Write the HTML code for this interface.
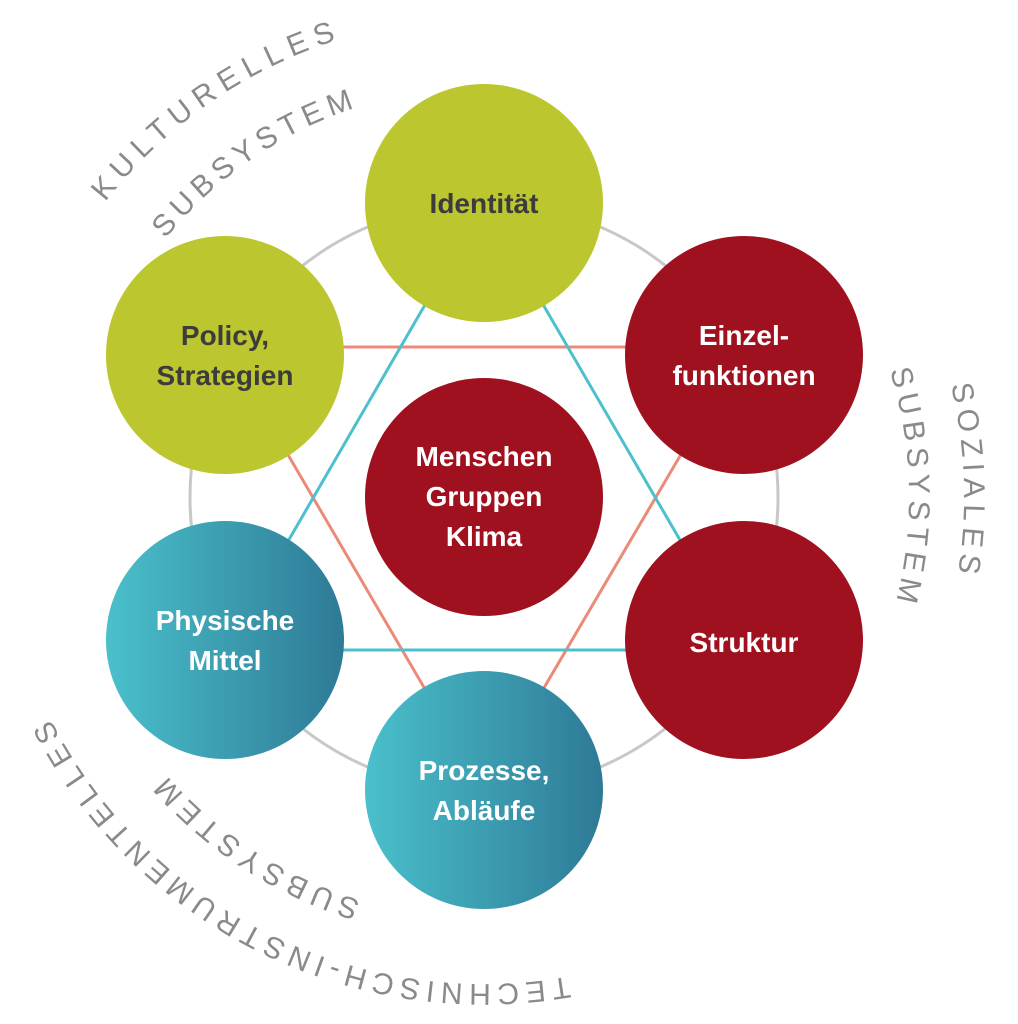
<!DOCTYPE html>
<html><head><meta charset="utf-8"><style>
html,body{margin:0;padding:0;background:#fff;}
svg{display:block;}
</style></head><body>
<svg width="1018" height="1024" viewBox="0 0 1018 1024" xmlns="http://www.w3.org/2000/svg">
<defs>
<linearGradient id="tg" x1="0" y1="0" x2="1" y2="0">
<stop offset="0" stop-color="#4ac0cb"/><stop offset="1" stop-color="#2e7a96"/>
</linearGradient>
<path id="p1" d="M32.9,332.8 A480,480 0 0 1 724,81.3"/>
<path id="p2" d="M98.7,356.8 A410,410 0 0 1 689,141.9"/>
<path id="p3" d="M851.7,188.4 A480,480 0 0 1 851.7,805.6"/>
<path id="p4" d="M809.6,223.8 A425,425 0 0 1 809.6,770.2"/>
<path id="p5" d="M727.5,918.8 A487,487 0 0 1 4.4,581.6"/>
<path id="p6" d="M695,862.5 A422,422 0 0 1 68.4,570.3"/>
</defs>
<circle cx="484" cy="497" r="294" fill="none" stroke="#c8c8c8" stroke-width="3"/>
<g stroke-width="3" fill="none">
<polygon points="225,347 744,347 484,790" stroke="#ec8a78"/>
<polygon points="484,203 744,650 225,650" stroke="#4cc0cc"/>
</g>
<circle cx="484" cy="203" r="119" fill="#bcc62e"/>
<circle cx="225" cy="355" r="119" fill="#bcc62e"/>
<circle cx="744" cy="355" r="119" fill="#a0111f"/>
<circle cx="744" cy="640" r="119" fill="#a0111f"/>
<circle cx="484" cy="497" r="119" fill="#a0111f"/>
<circle cx="225" cy="640" r="119" fill="url(#tg)"/>
<circle cx="484" cy="790" r="119" fill="url(#tg)"/>
<g font-family="Liberation Sans, sans-serif" font-weight="bold" font-size="28" text-anchor="middle">
<text x="484" y="213" fill="#3c3c3c">Identität</text>
<text x="225" y="345" fill="#3c3c3c">Policy,</text>
<text x="225" y="385" fill="#3c3c3c">Strategien</text>
<text x="744" y="345" fill="#fff">Einzel-</text>
<text x="744" y="385" fill="#fff">funktionen</text>
<text x="744" y="652" fill="#fff">Struktur</text>
<text x="484" y="466" fill="#fff">Menschen</text>
<text x="484" y="506" fill="#fff">Gruppen</text>
<text x="484" y="546" fill="#fff">Klima</text>
<text x="225" y="630" fill="#fff">Physische</text>
<text x="225" y="670" fill="#fff">Mittel</text>
<text x="484" y="780" fill="#fff">Prozesse,</text>
<text x="484" y="820" fill="#fff">Abläufe</text>
</g>
<g font-family="Liberation Sans, sans-serif" font-size="30" fill="#8a8a8a" letter-spacing="6">
<text letter-spacing="7.5"><textPath href="#p1" startOffset="150">KULTURELLES</textPath></text>
<text><textPath href="#p2" startOffset="136">SUBSYSTEM</textPath></text>
<text><textPath href="#p3" startOffset="222">SOZIALES</textPath></text>
<text><textPath href="#p4" startOffset="168">SUBSYSTEM</textPath></text>
<text><textPath href="#p5" startOffset="170">TECHNISCH-INSTRUMENTELLES</textPath></text>
<text><textPath href="#p6" startOffset="346">SUBSYSTEM</textPath></text>
</g>
</svg>
</body></html>
